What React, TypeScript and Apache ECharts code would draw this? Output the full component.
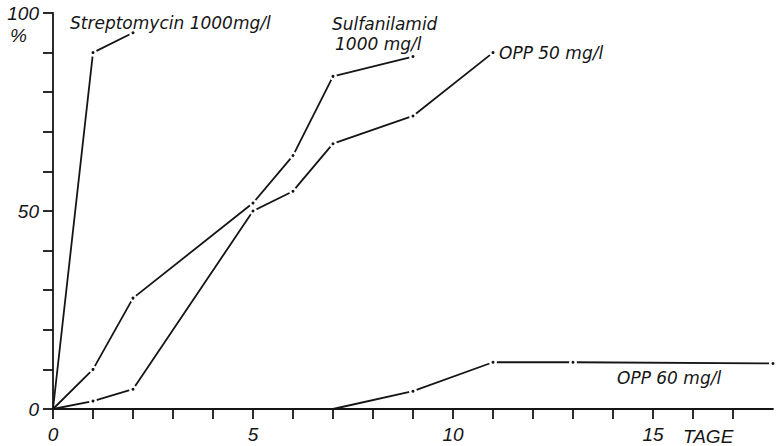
import React, { useEffect, useRef } from "react";
import * as echarts from "echarts";

// Days (x) and percentage (y)
const streptomycin: [number, number][] = [[0, 0], [1, 90], [2, 95]];
const sulfanilamid: [number, number][] = [[0, 0], [1, 10], [2, 28], [5, 52], [6, 64], [7, 84], [9, 89]];
const opp50: [number, number][] = [[0, 0], [1, 2], [2, 5], [5, 50], [6, 55], [7, 67], [9, 74], [11, 90]];
const opp60: [number, number][] = [[7, 0], [9, 4.5], [11, 11.8], [13, 11.8], [18, 11.5]];

const xLabels = [0, 5, 10, 15];
const yLabels = [0, 50, 100];

const INK = "#151515";
const NUM_FONT = "Liberation Sans";
const TXT_FONT = "DejaVu Sans";

function toData(pts: [number, number][]) {
  return pts.map(([x, y]) =>
    y === 0 ? { value: [x, y], symbol: "none" } : { value: [x, y] }
  );
}

function lineSeries(name: string, pts: [number, number][]) {
  return {
    name,
    type: "line",
    data: toData(pts),
    symbol: "circle",
    symbolSize: 5.5,
    itemStyle: { color: INK, borderColor: "#ffffff", borderWidth: 2.5 },
    lineStyle: { color: INK, width: 1.8 },
    z: 3,
  };
}

export default function App() {
  const ref = useRef<HTMLDivElement>(null);
  useEffect(() => {
    if (!ref.current) return;
    const chart = echarts.init(ref.current, undefined, { renderer: "svg" });
    const txt = (text: string, x: number, y: number, font = TXT_FONT, size = 17) => ({
      type: "text",
      x,
      y,
      style: {
        text,
        fill: INK,
        font: `italic ${size}px "${font}"`,
        textVerticalAlign: "middle",
        verticalAlign: "middle",
      },
    });
    chart.setOption({
      animation: false,
      backgroundColor: "#ffffff",
      grid: { left: 53, right: 5, top: 13, bottom: 37 },
      xAxis: {
        type: "value",
        min: 0,
        max: 18,
        interval: 1,
        axisLine: { show: true, lineStyle: { color: INK, width: 1.8 } },
        axisTick: { show: true, inside: false, length: 10, lineStyle: { color: INK, width: 1.8 } },
        splitLine: { show: false },
        axisLabel: {
          margin: 16,
          color: INK,
          fontSize: 19,
          fontStyle: "italic",
          fontFamily: NUM_FONT,
          showMaxLabel: false,
          formatter: (v: number) => (xLabels.includes(v) ? String(v) : ""),
        },
      },
      yAxis: {
        type: "value",
        min: 0,
        max: 100,
        interval: 10,
        axisLine: { show: true, lineStyle: { color: INK, width: 1.8 } },
        axisTick: { show: true, inside: false, length: 10, lineStyle: { color: INK, width: 1.8 } },
        splitLine: { show: false },
        axisLabel: {
          margin: 14,
          color: INK,
          fontSize: 19,
          fontStyle: "italic",
          fontFamily: NUM_FONT,
          formatter: (v: number) => (yLabels.includes(v) ? String(v) : ""),
        },
      },
      series: [
        lineSeries("Streptomycin 1000mg/l", streptomycin),
        lineSeries("Sulfanilamid 1000 mg/l", sulfanilamid),
        lineSeries("OPP 50 mg/l", opp50),
        lineSeries("OPP 60 mg/l", opp60),
      ],
      graphic: [
        txt("Streptomycin 1000mg/l", 70, 22.5),
        txt("Sulfanilamid", 332, 23.5),
        txt("1000 mg/l", 335, 43.5),
        txt("OPP 50 mg/l", 499, 52.5),
        txt("OPP 60 mg/l", 617, 377.5),
        txt("%", 10, 35.5, NUM_FONT, 19),
        txt("TAGE", 683, 436.5, NUM_FONT, 19),
      ],
    });
    return () => chart.dispose();
  }, []);
  return <div ref={ref} style={{ width: 778, height: 446, position: "absolute", left: 0, top: 0 }} />;
}
